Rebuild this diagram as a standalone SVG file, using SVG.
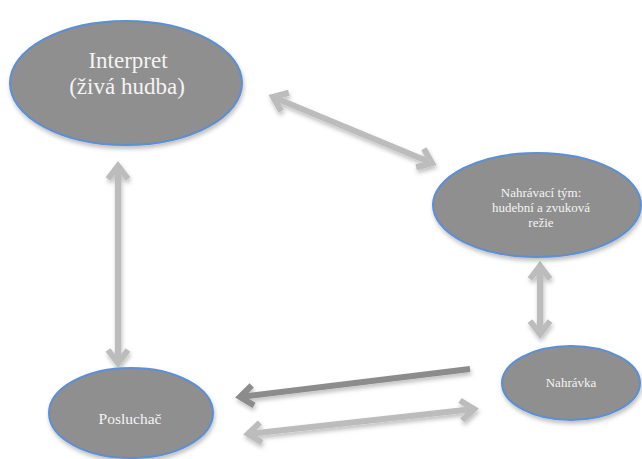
<svg xmlns="http://www.w3.org/2000/svg" width="642" height="459" viewBox="0 0 642 459">
<style>
.node ellipse{fill:#8f8f8f;stroke:#5b8fd3;stroke-width:2;filter:url(#sh)}
.node text{fill:#f4f4f4;text-anchor:middle}
.conn line{stroke:#bcbcbc;stroke-width:6;fill:none;filter:url(#sh)}
.conn line.dark{stroke:#8c8c8c}
</style>
<defs>
<filter id="sh" filterUnits="userSpaceOnUse" x="0" y="0" width="642" height="459">
<feDropShadow dx="1" dy="3" stdDeviation="2" flood-color="#000" flood-opacity="0.25"/>
</filter>
<marker id="ah" markerUnits="userSpaceOnUse" viewBox="-20 -14 24 28" refX="0" refY="0" markerWidth="24" markerHeight="28" orient="auto-start-reverse" overflow="visible">
<polyline points="-13,-10 0,0 -13,10" fill="none" stroke="#bcbcbc" stroke-width="6" stroke-linejoin="miter"/>
</marker>
<marker id="ahd" markerUnits="userSpaceOnUse" viewBox="-20 -14 24 28" refX="0" refY="0" markerWidth="24" markerHeight="28" orient="auto-start-reverse" overflow="visible">
<polyline points="-13,-10 0,0 -13,10" fill="none" stroke="#8c8c8c" stroke-width="6" stroke-linejoin="miter"/>
</marker>
</defs>
<g class="conn" id="connectors">
<line x1="118" y1="166" x2="118" y2="363" marker-start="url(#ah)" marker-end="url(#ah)"/>
<line x1="273" y1="97" x2="432" y2="163" marker-start="url(#ah)" marker-end="url(#ah)"/>
<line x1="540" y1="266" x2="540" y2="334" marker-start="url(#ah)" marker-end="url(#ah)"/>
<line class="dark" x1="470" y1="369" x2="240" y2="397" marker-end="url(#ahd)"/>
<line x1="248" y1="434" x2="474" y2="409" marker-start="url(#ah)" marker-end="url(#ah)"/>
</g>
<g font-family="'Liberation Serif', 'Times New Roman', serif">
<g class="node" id="interpret">
<ellipse cx="126" cy="83" rx="116" ry="62"/>
<text x="128" y="68" font-size="23">Interpret</text>
<text x="127" y="94" font-size="23">(živá hudba)</text>
</g>
<g class="node" id="nahravaci-tym">
<ellipse cx="537" cy="205" rx="104" ry="52"/>
<text x="541" y="197" font-size="13">Nahrávací tým:</text>
<text x="541" y="212" font-size="13">hudební a zvuková</text>
<text x="541" y="227" font-size="13">režie</text>
</g>
<g class="node" id="nahravka">
<ellipse cx="571" cy="383" rx="69" ry="37"/>
<text x="571" y="387" font-size="13">Nahrávka</text>
</g>
<g class="node" id="posluchac">
<ellipse cx="131" cy="413" rx="82" ry="45"/>
<text x="130" y="424" font-size="15.5">Posluchač</text>
</g>
</g>
</svg>
